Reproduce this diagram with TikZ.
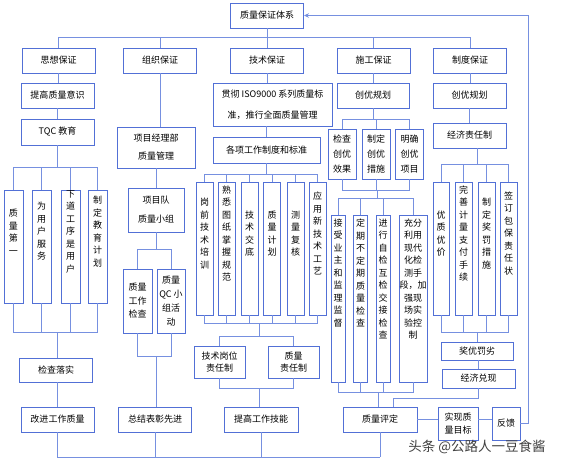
\documentclass[tikz,border=0pt]{standalone}
\usepackage{fontspec}
\setmainfont{Noto Sans CJK SC}
\usetikzlibrary{arrows.meta, positioning}
\definecolor{boxblue}{RGB}{82,112,214}
\definecolor{lineblue}{RGB}{118,144,224}
% vertical text, centred a little above the middle of the box
\newcommand{\coltext}[4][30pt]{\parbox[c][#3][c]{#2}{\centering #4\par\vspace*{#1}}}

\begin{document}
\begin{tikzpicture}[x=1pt, y=-1pt, >=Stealth,
    box/.style={rectangle, draw=boxblue, line width=0.9pt, fill=white, align=center, inner sep=0pt, font=\fontsize{9}{12.5}\selectfont},
    hbox/.style={box, minimum width=73pt, minimum height=25pt},
    colbox/.style={box},
    link/.style={draw=lineblue, line width=0.8pt}]

    \useasboundingbox (0,0) rectangle (562,467);

    % top and first level
    \node[hbox] (top) at (267,15.5) {质量保证体系};
    \node[hbox] (sx) at (58.5,60.5) {思想保证};
    \node[hbox] (zz) at (160,60.5) {组织保证};
    \node[hbox] (js) at (267,60.5) {技术保证};
    \node[hbox] (sg) at (373.5,60.5) {施工保证};
    \node[hbox] (zd) at (470,60.5) {制度保证};

    % 思想保证
    \node[hbox] (sx1) at (57.5,95.5) {提高质量意识};
    \node[hbox, minimum height=26pt] (sx2) at (57.5,132) {TQC 教育};
    \node[colbox] (sxa) at (13.5,246.5) {\coltext{19pt}{113pt}{质\\量\\第\\一}};
    \node[colbox] (sxb) at (41.5,246.5) {\coltext{19pt}{113pt}{为\\用\\户\\服\\务}};
    \node[colbox] (sxc) at (70.5,246.5) {\coltext{19pt}{113pt}{下\\道\\工\\序\\是\\用\\户}};
    \node[colbox] (sxd) at (97.5,246.5) {\coltext{19pt}{113pt}{制\\定\\教\\育\\计\\划}};
    \node[hbox, minimum height=24pt] (sx3) at (56,370) {检查落实};
    \node[hbox] (sx4) at (57.5,419.5) {改进工作质量};

    % 组织保证
    \node[box, minimum width=78pt, minimum height=41pt] (zz1) at (156,147.5) {项目经理部\\[5.5pt]质量管理};
    \node[box, minimum width=56pt, minimum height=44pt] (zz2) at (156,210) {项目队\\[6.5pt]质量小组};
    \node[box, minimum width=29pt, minimum height=64pt] (zz3) at (137.5,301) {质量\\[1pt]工作\\[1pt]检查};
    \node[box, minimum width=28pt, minimum height=64pt] (zz4) at (171,301) {质量\\[1.5pt]QC 小\\[1.5pt]组活\\[1.5pt]动};
    \node[hbox] (zz5) at (155,419.5) {总结表彰先进};

    % 技术保证
    \node[box, minimum width=119pt, minimum height=43pt] (js1) at (272.5,104.5) {贯彻 ISO9000 系列质量标\\[8.5pt]准，推行全面质量管理};
    \node[box, minimum width=107pt, minimum height=26pt] (js2) at (266.5,150) {各项工作制度和标准};
    \node[colbox] (jsa) at (204.5,248.5) {\coltext{17pt}{133pt}{岗\\前\\技\\术\\培\\训}};
    \node[colbox] (jsb) at (226.5,248.5) {\coltext{17pt}{133pt}{熟\\悉\\图\\纸\\掌\\握\\规\\范}};
    \node[colbox] (jsc) at (249.5,248.5) {\coltext{17pt}{133pt}{技\\术\\交\\底}};
    \node[colbox] (jsd) at (272,248.5) {\coltext{17pt}{133pt}{质\\量\\计\\划}};
    \node[colbox] (jse) at (295.5,248.5) {\coltext{17pt}{133pt}{测\\量\\复\\核}};
    \node[colbox] (jsf) at (317.5,248.5) {\coltext{17pt}{133pt}{应\\用\\新\\技\\术\\工\\艺}};
    \node[box, minimum width=51pt, minimum height=32pt] (js3) at (219.5,362) {技术岗位\\责任制};
    \node[box, minimum width=51pt, minimum height=32pt] (js4) at (293.5,362) {质量\\责任制};
    \node[hbox, minimum width=74pt] (js5) at (261,419.5) {提高工作技能};

    % 施工保证
    \node[hbox, minimum width=72pt] (sg1) at (373,95.5) {创优规划};
    \node[box, minimum width=28pt, minimum height=50pt] (sga) at (342,154) {检查\\[2.5pt]创优\\[2.5pt]效果};
    \node[box, minimum width=28pt, minimum height=50pt] (sgb) at (376,154) {制定\\[2.5pt]创优\\[2.5pt]措施};
    \node[box, minimum width=28pt, minimum height=50pt] (sgc) at (409.5,154) {明确\\[2.5pt]创优\\[2.5pt]项目};
    \node[colbox] (sgd) at (338,298.5) {\coltext[51pt]{14pt}{167pt}{接\\受\\业\\主\\和\\监\\理\\监\\督}};
    \node[colbox] (sge) at (360.5,298.5) {\coltext[51pt]{14pt}{167pt}{定\\期\\不\\定\\期\\质\\量\\检\\查}};
    \node[colbox] (sgf) at (383,298.5) {\coltext[39pt]{14pt}{167pt}{进\\行\\自\\检\\互\\检\\交\\接\\检\\查}};
    \node[colbox] (sgg) at (413,298.5) {\coltext[39pt]{28pt}{167pt}{充分\\利用\\现代\\化检\\测手\\段，加\\强现\\场实\\验控\\制}};
    \node[hbox, minimum width=74pt] (sg2) at (380,419.5) {质量评定};
    \node[box, minimum width=40pt, minimum height=33pt] (sg3) at (458,423.5) {实现质\\量目标};
    \node[box, minimum width=28pt, minimum height=33pt] (fk) at (506,423.5) {反馈};

    % 制度保证
    \node[hbox] (zd1) at (469.5,95.5) {创优规划};
    \node[hbox] (zd2) at (469.5,135.5) {经济责任制};
    \node[colbox] (zda) at (441,248.5) {\coltext{16pt}{133pt}{优\\质\\优\\价}};
    \node[colbox] (zdb) at (463.5,248.5) {\coltext{17pt}{133pt}{完\\善\\计\\量\\支\\付\\手\\续}};
    \node[colbox] (zdc) at (486.5,248.5) {\coltext{17pt}{133pt}{制\\定\\奖\\罚\\措\\施}};
    \node[colbox] (zdd) at (508.5,248.5) {\coltext{17pt}{133pt}{签\\订\\包\\保\\责\\任\\状}};
    \node[box, minimum width=72pt, minimum height=18pt] (zd3) at (477,351) {奖优罚劣};
    \node[box, minimum width=73pt, minimum height=19pt] (zd4) at (478.5,378.5) {经济兑现};

    \node[font=\fontsize{13.5}{14}\selectfont, text=black!75] (wm) at (477,447) {头条 @公路人一豆食酱};

    % junction points
    \coordinate (bus) at (267,37);
    \coordinate (sxt) at (57.5,167);
    \coordinate (sxm) at (57.5,332);
    \coordinate (zzt) at (156,249);
    \coordinate (zzm) at (156,356);
    \coordinate (jst) at (266.5,174);
    \coordinate (jsm) at (259,323);
    \coordinate (jsn) at (259,336);
    \coordinate (jso) at (259,388);
    \coordinate (sgt) at (373,119);
    \coordinate (sgm) at (377,190);
    \coordinate (sgn) at (377,198);
    \coordinate (sgo) at (378,392);
    \coordinate (sgq) at (393,398);
    \coordinate (zdt) at (477,164);
    \coordinate (zdm) at (477,332);
    \coordinate (bot) at (380,457);
    \coordinate (fbk) at (528,423.5);

    % trunk
    \draw[link] (top.south) -- (bus);
    \foreach \n in {sx,zz,js,sg,zd}
        \draw[link] (\n.north) |- (bus);

    % 思想保证 links
    \draw[link] (sx.south) -- (sx.south |- sx1.north);
    \draw[link] (sx1.south) -- (sx2.north);
    \draw[link] (sx2.south) -- (sxt);
    \foreach \n in {sxa,sxb,sxc,sxd} {
        \draw[link] (\n.north) |- (sxt);
        \draw[link] (\n.south) |- (sxm);
    }
    \draw[link] (sxm) -- (sxm |- sx3.north);
    \draw[link] (sxm |- sx3.south) -- (sx4.north);

    % 组织保证 links
    \draw[link] (zz.south) -- (zz.south |- zz1.north);
    \draw[link] (zz1.south) -- (zz2.north);
    \draw[link] (zz2.south) -- (zzt);
    \foreach \n in {zz3,zz4} {
        \draw[link] (\n.north) |- (zzt);
        \draw[link] (\n.south) |- (zzm);
    }
    \draw[link] (zzm) -- (zzm |- zz5.north);

    % 技术保证 links
    \draw[link] (js.south) -- (js.south |- js1.north);
    \draw[link] (js2.north |- js1.south) -- (js2.north);
    \draw[link] (js2.south) -- (jst);
    \foreach \n in {jsa,jsb,jsc,jsd,jse,jsf} {
        \draw[link] (\n.north) |- (jst);
        \draw[link] (\n.south) |- (jsm);
    }
    \draw[link] (jsm) -- (jsn);
    \foreach \n in {js3,js4} {
        \draw[link] (\n.north) |- (jsn);
        \draw[link] (\n.south) |- (jso);
    }
    \draw[link] (jso) -- (jso |- js5.north);

    % 施工保证 links
    \draw[link] (sg.south) -- (sg.south |- sg1.north);
    \draw[link] (sg1.south) -- (sgt);
    \foreach \n in {sga,sgb,sgc} {
        \draw[link] (\n.north) |- (sgt);
        \draw[link] (\n.south) |- (sgm);
    }
    \draw[link] (sgm) -- (sgn);
    \foreach \n in {sgd,sge,sgf,sgg} {
        \draw[link] (\n.north) |- (sgn);
        \draw[link] (\n.south) |- (sgo);
    }
    \draw[link] (sgo) -- (sgo |- sg2.north);

    % 制度保证 links
    \draw[link] (zd.south) -- (zd.south |- zd1.north);
    \draw[link] (zd1.south) -- (zd2.north);
    \draw[link] (zd2.south -| zdt) -- (zdt);
    \foreach \n in {zda,zdb,zdc,zdd} {
        \draw[link] (\n.north) |- (zdt);
        \draw[link] (\n.south) |- (zdm);
    }
    \draw[link] (zdm) -- (zd3.north);
    \draw[link] (zd3.south -| zd4.south) -- (zd4.north);
    \draw[link] (zd4.south) |- (sgq) -- (sgq |- sg2.north);

    % bottom line and feedback
    \foreach \n in {sx4,zz5,js5,sg2}
        \draw[link] (\n.south) |- (bot);
    \draw[link] (sg2.east) -- (sg2.east -| sg3.west);
    \draw[link] (sg2.east -| sg3.east) -- (sg2.east -| fk.west);
    \draw[link, -{Stealth[length=5pt, width=4.5pt]}] (fk.east) -- (fbk) |- (top.east);
\end{tikzpicture}
\end{document}
